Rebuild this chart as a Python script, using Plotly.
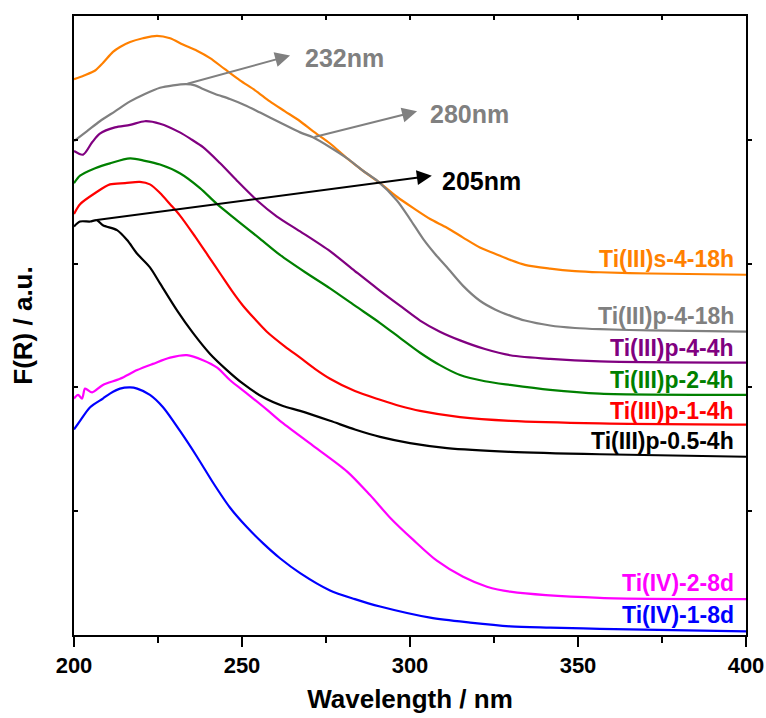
import plotly.graph_objects as go

# ---- data (wavelength nm, F(R) a.u.) ----
wl_s4_18h = [200, 203.0, 206.3, 208.6, 211.6, 213.7, 216.7, 220.5, 224.7, 228.6, 232.4, 236.6, 240.5, 244.9, 249.4, 253.9,
             258.3, 262.8, 267.3, 271.1, 276.2, 281.3, 286.0, 291.1, 296.1, 300.9, 306.0, 311.0, 315.8, 320.8, 325.3,
             329.8, 334.2, 341.7, 349.1, 356.5, 371.4, 400]
fr_s4_18h = [4.49, 4.52, 4.56, 4.62, 4.71, 4.75, 4.79, 4.82, 4.84, 4.82, 4.77, 4.72, 4.66, 4.57, 4.48, 4.40,
             4.31, 4.23, 4.15, 4.07, 3.97, 3.85, 3.75, 3.65, 3.54, 3.45, 3.36, 3.29, 3.21, 3.13, 3.08,
             3.03, 2.99, 2.96, 2.94, 2.93, 2.92, 2.91]

wl_p4_18h = [200, 203.9, 207.7, 212.2, 216.7, 221.1, 225.6, 229.5, 233.3, 236.0, 238.4, 242.0, 246.4, 250.9, 255.4,
             261.3, 267.3, 271.1, 276.2, 281.3, 286.0, 290.2, 296.1, 300.0, 303.9, 307.4, 311.0, 315.8, 320.8, 325.3,
             329.8, 334.2, 341.7, 349.1, 356.5, 371.4, 400]
fr_p4_18h = [3.99, 4.07, 4.15, 4.23, 4.31, 4.37, 4.42, 4.44, 4.45, 4.44, 4.41, 4.37, 4.33, 4.28, 4.22,
             4.14, 4.06, 4.02, 3.94, 3.85, 3.75, 3.67, 3.51, 3.36, 3.20, 3.08, 2.97, 2.82, 2.70, 2.63,
             2.58, 2.54, 2.50, 2.48, 2.47, 2.46, 2.45]

wl_p4_4h = [200, 202.7, 205.4, 207.7, 212.2, 216.7, 221.1, 225.6, 231.5, 235.1, 238.4, 243.5, 248.5, 254.5, 260.4,
            267.3, 276.2, 283.6, 291.1, 297.0, 303.0, 308.9, 314.9, 322.3, 329.8, 341.7, 356.5, 400]
fr_p4_4h = [3.91, 3.88, 3.98, 4.05, 4.10, 4.12, 4.15, 4.13, 4.06, 4.00, 3.94, 3.81, 3.67, 3.51, 3.38,
            3.26, 3.10, 2.94, 2.78, 2.66, 2.54, 2.45, 2.38, 2.31, 2.26, 2.23, 2.21, 2.20]

wl_p2_4h = [200, 201.8, 206.3, 210.7, 216.7, 221.1, 225.6, 231.5, 237.5, 242.6, 248.5, 255.4, 261.3, 268.8, 276.2,
            283.6, 291.1, 297.0, 303.0, 308.9, 314.9, 322.3, 329.8, 341.7, 356.5, 400]
fr_p2_4h = [3.65, 3.71, 3.77, 3.81, 3.85, 3.83, 3.80, 3.73, 3.61, 3.48, 3.35, 3.20, 3.07, 2.93, 2.80,
            2.66, 2.52, 2.40, 2.28, 2.18, 2.10, 2.05, 2.02, 1.98, 1.95, 1.94]

wl_p1_4h = [200, 201.8, 206.3, 210.7, 215.2, 219.6, 222.6, 225.6, 228.6, 231.5, 236.0, 240.5, 243.5, 247.0, 250.3,
            253.9, 257.4, 262.8, 267.3, 271.7, 276.2, 283.6, 291.1, 297.0, 303.0, 314.9, 329.8, 356.5, 400]
fr_p1_4h = [3.40, 3.48, 3.57, 3.64, 3.65, 3.66, 3.64, 3.57, 3.48, 3.39, 3.22, 3.04, 2.92, 2.78, 2.66,
            2.55, 2.45, 2.33, 2.24, 2.15, 2.07, 1.97, 1.90, 1.85, 1.81, 1.76, 1.73, 1.71, 1.70]

wl_p05_4h = [200, 201.8, 204.8, 206.8, 208.6, 212.8, 215.8, 218.8, 222.6, 225.6, 230.7, 235.4, 240.5, 245.5, 250.3,
             256.3, 262.2, 267.3, 276.2, 283.6, 291.1, 300.0, 311.0, 329.8, 356.5, 400]
fr_p05_4h = [3.30, 3.34, 3.34, 3.35, 3.31, 3.27, 3.19, 3.08, 2.97, 2.84, 2.62, 2.44, 2.27, 2.14, 2.03,
             1.92, 1.85, 1.81, 1.73, 1.66, 1.60, 1.55, 1.51, 1.48, 1.46, 1.44]

wl_iv2_8d = [200, 201.2, 202.4, 203.3, 205.4, 208.6, 213.7, 218.8, 223.5, 228.6, 233.6, 238.4, 242.6, 246.4, 251.5,
             257.4, 261.3, 271.1, 281.3, 288.1, 294.0, 300.9, 308.0, 315.8, 322.9, 329.8, 356.5, 400]
fr_iv2_8d = [1.91, 1.94, 1.91, 1.99, 1.96, 2.02, 2.07, 2.14, 2.19, 2.24, 2.26, 2.22, 2.16, 2.06, 1.95,
             1.82, 1.73, 1.53, 1.32, 1.13, 0.95, 0.77, 0.60, 0.47, 0.39, 0.35, 0.30, 0.29]

wl_iv1_8d = [200, 201.8, 204.8, 208.6, 210.7, 213.7, 216.7, 218.8, 222.6, 226.5, 231.5, 236.6, 241.4, 246.4, 251.5,
             256.3, 261.3, 267.3, 276.2, 283.6, 291.1, 306.0, 317.9, 329.8, 341.7, 356.5, 400]
fr_iv1_8d = [1.66, 1.73, 1.84, 1.91, 1.95, 1.99, 2.00, 1.99, 1.94, 1.84, 1.65, 1.44, 1.23, 1.03, 0.87,
             0.74, 0.62, 0.50, 0.36, 0.29, 0.23, 0.14, 0.10, 0.07, 0.06, 0.05, 0.03]

series_names = ["Ti(III)s-4-18h", "Ti(III)p-4-18h", "Ti(III)p-4-4h", "Ti(III)p-2-4h",
                "Ti(III)p-1-4h", "Ti(III)p-0.5-4h", "Ti(IV)-2-8d", "Ti(IV)-1-8d"]
series_colors = ["#FF8000", "#808080", "#800080", "#008000", "#FF0000", "#000000", "#FF00FF", "#0000FF"]
label_y = [3.04, 2.58, 2.32, 2.06, 1.81, 1.57, 0.42, 0.16]

peak_labels = ["232nm", "280nm", "205nm"]
peak_colors = ["#808080", "#808080", "#000000"]
arrow_tail = [(233.3, 4.45), (271.1, 4.02), (206.3, 3.35)]
arrow_head = [(264.3, 4.68), (302.1, 4.23), (306.5, 3.71)]
peak_text_pos = [(268.2, 4.66), (305.4, 4.21), (308.9, 3.67)]

x_ticks = [200, 250, 300, 350, 400]
x_minor = [225, 275, 325, 375]
y_ticks = [1, 2, 3, 4]

xs = [wl_s4_18h, wl_p4_18h, wl_p4_4h, wl_p2_4h, wl_p1_4h, wl_p05_4h, wl_iv2_8d, wl_iv1_8d]
ys = [fr_s4_18h, fr_p4_18h, fr_p4_4h, fr_p2_4h, fr_p1_4h, fr_p05_4h, fr_iv2_8d, fr_iv1_8d]

FONT = "Liberation Sans"
fig = go.Figure()
for x, y, n, c in zip(xs, ys, series_names, series_colors):
    fig.add_trace(go.Scatter(x=x, y=y, name=n, mode="lines",
                             line=dict(color=c, width=2.2, shape="spline", smoothing=0.8),
                             showlegend=False))
# invisible trace that carries the mirror axes
fig.add_trace(go.Scatter(x=[200], y=[0], xaxis="x2", yaxis="y2", mode="markers",
                         marker=dict(opacity=0), showlegend=False, hoverinfo="skip"))

annotations = []
for n, c, ly in zip(series_names, series_colors, label_y):
    annotations.append(dict(x=397, y=ly, xref="x", yref="y", text=n, showarrow=False, xanchor="right",
                            yanchor="middle", font=dict(family=FONT, size=23, color=c, weight="bold")))
for t, c, tail, head, tp in zip(peak_labels, peak_colors, arrow_tail, arrow_head, peak_text_pos):
    annotations.append(dict(x=head[0], y=head[1], ax=tail[0], ay=tail[1], xref="x", yref="y", axref="x", ayref="y",
                            text="", showarrow=True, arrowhead=2, arrowsize=1.5, arrowwidth=2, arrowcolor=c,
                            standoff=0))
    annotations.append(dict(x=tp[0], y=tp[1], xref="x", yref="y", text=t, showarrow=False, xanchor="left",
                            yanchor="middle", font=dict(family=FONT, size=25, color=c, weight="bold")))

fig.update_layout(
    width=766, height=718, margin=dict(l=74, r=20, t=16, b=83, autoexpand=False),
    paper_bgcolor="white", plot_bgcolor="white",
    annotations=annotations,
    xaxis=dict(range=[200, 400], tickvals=x_ticks, ticks="outside", ticklen=10, tickwidth=2, tickcolor="black",
               minor=dict(tickvals=x_minor, ticks="outside", ticklen=6, tickwidth=2, tickcolor="black"),
               showline=True, linecolor="black", linewidth=2, showgrid=False, zeroline=False, automargin=False,
               tickfont=dict(family=FONT, size=22, color="black", weight="bold"),
               title=dict(text="Wavelength / nm", font=dict(family=FONT, size=26, color="black", weight="bold"),
                          standoff=12)),
    xaxis2=dict(range=[200, 400], overlaying="x", side="top", tickvals=sorted(x_ticks[1:-1] + x_minor),
                ticks="inside", ticklen=4, tickwidth=1.5, tickcolor="black", showticklabels=False, showline=True,
                linecolor="black", linewidth=2, showgrid=False, zeroline=False, automargin=False),
    yaxis=dict(range=[0, 5], tickvals=y_ticks, ticks="inside", ticklen=4, tickwidth=1.5, tickcolor="black",
               showticklabels=False, showline=True, linecolor="black", linewidth=2, showgrid=False,
               zeroline=False, automargin=False,
               title=dict(text="F(R) / a.u.", font=dict(family=FONT, size=26, color="black", weight="bold"),
                          standoff=32)),
    yaxis2=dict(range=[0, 5], overlaying="y", side="right", tickvals=y_ticks, ticks="outside", ticklen=4,
                tickwidth=1.5, tickcolor="black", showticklabels=False, showline=True, linecolor="black",
                linewidth=2, showgrid=False, zeroline=False, automargin=False),
)
fig.write_html("out.html")
